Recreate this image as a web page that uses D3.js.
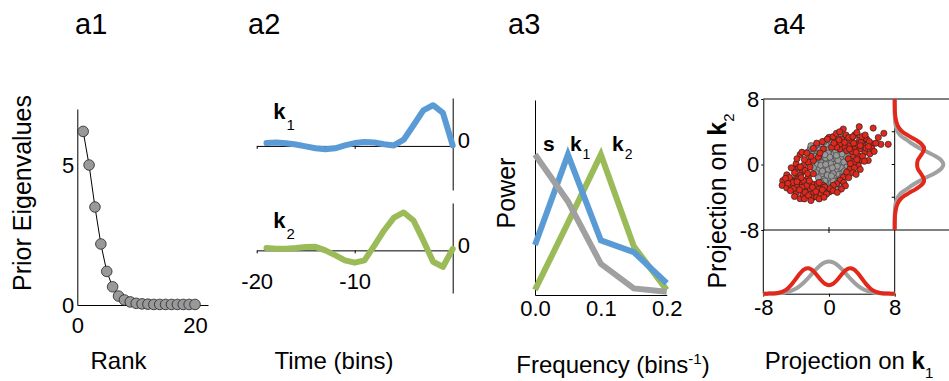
<!DOCTYPE html>
<html>
<head>
<meta charset="utf-8">
<script src="https://cdn.jsdelivr.net/npm/d3@7"></script>
<style>
  html, body { margin: 0; padding: 0; background: #fff; }
  svg { display: block; font-family: "Liberation Sans", Arial, sans-serif; }
</style>
</head>
<body>
<svg id="fig" width="949" height="381"></svg>
<script>
// ---- data ----
// a1: prior eigenvalues by rank
const ranks = [1, 2, 3, 4, 5, 6, 7, 8, 9, 10, 11, 12, 13, 14, 15, 16, 17, 18, 19, 20];
const eigenvalues = [6.2, 5.0, 3.5, 2.18, 1.2, 0.65, 0.32, 0.18, 0.11, 0.06, 0.04, 0.03, 0.02, 0.02, 0.02, 0.02, 0.02, 0.02, 0.02, 0.02];

// a2: filters over time bins
const timeBins = [-19, -18, -17, -16, -15, -14, -13, -12, -11, -10, -9, -8, -7, -6, -5, -4, -3, -2, -1, 0];
const k1Filter = [0.06, 0.07, 0.055, 0.03, -0.01, -0.05, -0.07, -0.05, 0.01, 0.06, 0.08, 0.07, 0.035, 0.01, 0.13, 0.43, 0.74, 0.85, 0.69, 0.01];
const k2Filter = [0.05, 0.035, 0.035, 0.05, 0.07, 0.075, 0.0, -0.10, -0.21, -0.26, -0.21, 0.10, 0.42, 0.69, 0.80, 0.63, 0.21, -0.24, -0.35, 0.03];

// a3: power spectra
const freqs = [0, 0.05, 0.1, 0.15, 0.2];
const powerS = [0.72, 0.48, 0.16, 0.034, 0.017];
const powerK1 = [0.256, 0.72, 0.28, 0.22, 0.06];
const powerK2 = [0.026, 0.37, 0.72, 0.25, 0.026];

// a4: projections (k1, k2) of raw stimuli (gray) and spike-triggered stimuli (red)
const grayPts = [
  [-2.3, 1.9], [-1.7, 1.8], [-0.9, 2.1], [-0.3, 2.5], [0.3, 2.7], [1.1, 2.9], [1.7, 3.1], [2.2, 3.1],
  [-2.0, 1.2], [-1.4, 1.3], [-0.8, 1.5], [-0.2, 1.7], [0.4, 1.9], [1.0, 2.1], [1.6, 2.3], [2.1, 2.2],
  [-1.8, 0.6], [-1.2, 0.7], [-0.6, 0.9], [0.0, 1.1], [0.6, 1.3], [1.2, 1.5], [1.8, 1.6],
  [-1.5, 0.0], [-0.9, 0.2], [-0.3, 0.4], [0.3, 0.6], [0.9, 0.8], [1.5, 0.9], [2.1, 1.0],
  [-1.2, -0.6], [-0.6, -0.4], [0.0, -0.2], [0.6, 0.0], [1.2, 0.2], [1.8, 0.3],
  [-0.9, -1.2], [-0.3, -1.0], [0.3, -0.8], [0.9, -0.6], [1.5, -0.4],
  [-0.6, -1.8], [0.0, -1.6], [0.6, -1.4], [1.2, -1.2], [1.7, -1.0],
  [-0.3, -2.4], [0.3, -2.2], [0.9, -2.0], [1.4, -1.8],
  [0.1, -2.8], [0.7, -2.6], [1.2, -2.4],
  [-1.0, -0.1], [-0.4, 0.8], [0.2, 0.1], [0.8, 1.7], [1.4, 2.6], [-0.5, -2.0], [0.5, -1.1],
  [-1.3, 1.0], [2.0, 1.9], [2.4, 2.6], [1.0, -0.2], [-0.1, -0.6],
  [-2.6, 1.5], [-2.4, 0.8], [-2.1, 0.2], [-1.9, -0.4], [-1.6, -1.0], [-1.3, -1.6], [-1.0, -2.2], [-0.7, -2.7],
  [-2.2, 2.3], [-1.5, 2.4], [-0.6, 2.8], [0.0, 3.0], [0.8, 3.3], [1.5, 3.5], [2.0, 3.4],
  [-0.4, 0.0], [0.4, -0.4], [1.1, 0.5], [-0.1, 1.4], [0.9, 1.1], [1.6, 1.3], [2.3, 1.5], [2.5, 0.6],
  [2.2, -0.3], [1.9, -0.8], [1.6, -1.5], [1.2, -2.0], [0.8, -3.0], [0.2, -3.2], [-0.5, -3.0],
  [-0.2, -1.3], [0.5, -2.0], [-0.8, -0.8], [0.1, 0.9], [0.7, 2.2], [1.3, 1.9], [-1.1, 1.8],
  [-1.7, 1.0], [-0.5, 1.2], [0.3, -1.4]
];
const redPts = [
  [1.74, 4.33], [3.68, 4.62], [5.38, 4.45], [6.68, 3.81], [6.32, 2.47], [7.21, 2.47], [0.0, 3.32],
  [1.54, 3.12], [2.06, 3.60], [3.16, 3.64], [3.72, 3.0], [4.25, 3.0], [4.57, 3.12], [5.30, 2.51],
  [0.85, 2.83], [-1.90, 1.98], [-0.69, 1.90], [-3.52, 1.21], [-4.01, 0.08], [-4.17, -0.61],
  [-5.14, -1.26], [-5.63, -1.98], [-5.71, -2.55], [-5.14, -2.87], [-4.57, -2.79], [-4.01, -3.48],
  [-3.52, -4.17], [-3.16, -3.68], [-2.02, -4.05], [-1.50, -3.97], [-1.01, -3.60], [0.04, -3.36],
  [-1.90, -3.36], [-2.71, -3.16], [-2.31, -2.96], [-1.30, -2.96], [-4.53, -1.94], [-3.93, -1.54],
  [-3.32, -0.93], [-3.12, -0.12], [-2.51, 0.28], [-1.90, 0.49], [-1.30, 0.89],
  [1.34, 1.90], [1.94, 2.11], [2.55, 2.31], [3.16, 1.90], [3.77, 1.90], [4.37, 1.50],
  [4.98, 1.30], [3.97, 0.49], [4.78, 0.49], [3.56, -0.12], [3.08, 0.28], [2.55, -0.53], [2.15, -0.93],
  [1.74, -1.54], [1.34, -1.94], [0.93, -2.35], [0.53, -2.55], [-0.69, -2.55], [-1.50, -2.35],
  [-2.11, -2.35], [-2.71, -2.55], [-3.52, -2.35], [-3.93, -2.55], [-4.33, -2.96], [-3.12, -1.94],
  [-2.51, -1.54], [-1.90, -1.13], [-3.52, -1.34], [-2.91, -0.73], [-2.31, -0.32],
  [-0.49, -2.75], [0.12, -2.96], [2.35, 0.69], [2.96, 1.09], [3.56, 1.09],
  [2.15, 1.70], [4.17, 2.31], [2.75, 2.91], [3.36, 2.51], [1.34, 2.51], [0.93, 2.11],
  [0.32, 2.11],
  [-4.8, -1.6], [-4.4, -2.2], [-3.8, -1.8], [-3.3, -2.8], [-2.9, -3.4], [-2.4, -2.0], [-2.0, -2.8],
  [-1.6, -3.3], [-1.2, -2.2], [-0.8, -3.1], [-3.7, -0.4], [-3.0, 0.6], [-2.6, -1.1],
  [-4.2, -1.0], [-3.4, -1.6], [-2.2, 1.0], [-1.1, 1.4], [-0.3, -3.6], [0.5, -3.2],
  [2.6, 0.1], [3.1, -0.4], [3.4, 0.6], [4.1, 1.0], [4.5, 2.0],
  [3.9, 2.7], [2.4, 3.3], [1.9, 2.7], [1.2, 3.0], [0.6, 2.6], [2.8, 1.6], [3.3, 1.5], [4.0, 3.4],
  [5.2, 2.0], [2.9, -1.0], [1.8, -2.2],
  [2.9, 3.4], [3.4, 3.9], [4.4, 3.6], [4.9, 2.8], [5.7, 2.6], [6.0, 3.3], [3.8, 2.3], [4.8, 2.2],
  [3.0, 2.6], [2.5, 1.9], [5.5, 1.6], [4.3, 0.4], [3.8, -0.6], [3.3, -1.2], [2.4, -1.6], [2.0, -2.6],
  [1.5, -3.0], [1.0, -3.4], [-5.3, -1.7], [-5.0, -2.3], [-4.7, -3.2], [-4.2, -3.9], [-3.6, -3.1],
  [-3.0, -4.2], [-2.5, -3.8], [-2.2, -4.4], [-1.2, -4.2], [-0.6, -4.0], [-3.9, -2.1], [-3.5, -0.3],
  [-4.6, -0.4], [-3.9, 0.7], [-3.3, 1.5], [-2.7, 1.4], [-1.5, 2.6], [-0.8, 2.8],
  [-0.2, 3.1], [0.5, 3.4], [0.9, 3.8], [1.3, 4.0]
];

// a4 marginals: grid along each projection and curve heights
const projGrid = [-8, -7.5, -7, -6.5, -6, -5.5, -5, -4.5, -4, -3.5, -3, -2.5, -2, -1.5, -1, -0.5, 0,
                  0.5, 1, 1.5, 2, 2.5, 3, 3.5, 4, 4.5, 5, 5.5, 6, 6.5, 7, 7.5, 8];
const margK1Gray = [0, 0.001, 0.002, 0.004, 0.009, 0.016, 0.030, 0.051, 0.082, 0.126, 0.182, 0.249, 0.321, 0.391, 0.451, 0.491, 0.505,
                    0.491, 0.451, 0.391, 0.321, 0.249, 0.182, 0.126, 0.082, 0.051, 0.030, 0.016, 0.009, 0.004, 0.002, 0.001, 0];
const margK1Red = [0, 0.001, 0.002, 0.007, 0.019, 0.043, 0.086, 0.153, 0.238, 0.322, 0.383, 0.399, 0.365, 0.294, 0.215, 0.155, 0.133,
                   0.155, 0.215, 0.294, 0.365, 0.399, 0.383, 0.322, 0.238, 0.153, 0.086, 0.043, 0.019, 0.007, 0.002, 0.001, 0];
const margK2Gray = [0, 0, 0, 0, 0.0015, 0.004, 0.010, 0.023, 0.048, 0.095, 0.19, 0.28, 0.39, 0.515, 0.639, 0.728, 0.76,
                    0.728, 0.639, 0.515, 0.39, 0.28, 0.19, 0.095, 0.048, 0.023, 0.010, 0.004, 0.0015, 0, 0, 0, 0];
const margK2Red = [0, 0, 0.001, 0.003, 0.008, 0.018, 0.035, 0.065, 0.12, 0.22, 0.33, 0.42, 0.46, 0.44, 0.40, 0.36, 0.35,
                   0.36, 0.40, 0.44, 0.46, 0.42, 0.33, 0.22, 0.12, 0.065, 0.035, 0.018, 0.008, 0.003, 0.001, 0, 0];

// ---- drawing ----
const FONT = '"Liberation Sans", Arial, sans-serif';
const BLUE = "#5b9bd5", GREEN = "#9bbb59", GRAY = "#a0a0a0", RED = "#e2281b";
const svg = d3.select("#fig");
const plain = d => String(d);

// style an axis group after d3 has drawn it
function styleAxis(g, size) {
  g.attr("font-family", FONT).attr("font-size", size);
  g.selectAll(".domain, .tick line").attr("stroke", "#000").attr("stroke-width", 1);
  g.selectAll("text").attr("fill", "#000");
  return g;
}

// panel titles
const titles = [["a1", 75], ["a2", 248], ["a3", 508], ["a4", 773]];
svg.selectAll("text.title").data(titles).join("text")
  .attr("class", "title").attr("x", d => d[1]).attr("y", 34)
  .attr("font-size", 29).text(d => d[0]);

// ===== a1 =====
const x1 = d3.scaleLinear([0, 22.2], [77.3, 208]);
const y1 = d3.scaleLinear([0, 7], [305, 109]);
styleAxis(svg.append("g").attr("transform", "translate(0,305)")
  .call(d3.axisBottom(x1).tickValues([0, 20]).tickFormat(plain).tickSize(0).tickSizeOuter(0).tickPadding(12)), 22);
styleAxis(svg.append("g").attr("transform", "translate(77.3,0)")
  .call(d3.axisLeft(y1).tickValues([0, 5]).tickFormat(plain).tickSize(0).tickSizeOuter(0).tickPadding(3)), 22);
const eig = ranks.map((r, i) => [r, eigenvalues[i]]);
svg.append("path").datum(eig)
  .attr("fill", "none").attr("stroke", "#000").attr("stroke-width", 1)
  .attr("d", d3.line().x(d => x1(d[0])).y(d => y1(d[1])));
svg.append("g").selectAll("circle").data(eig).join("circle")
  .attr("cx", d => x1(d[0])).attr("cy", d => y1(d[1])).attr("r", 5.3)
  .attr("fill", "#999").attr("stroke", "#222").attr("stroke-width", 0.8);
svg.append("text").attr("transform", "translate(31,193) rotate(-90)")
  .attr("text-anchor", "middle").attr("font-size", 25).text("Prior Eigenvalues");
svg.append("text").attr("x", 118.5).attr("y", 369)
  .attr("text-anchor", "middle").attr("font-size", 24).text("Rank");

// ===== a2 =====
const x2 = d3.scaleLinear([-20, 0], [256.7, 452.7]);
const y2a = d3.scaleLinear([-0.92, 1], [190, 98]);
const y2b = d3.scaleLinear([-0.9, 1], [293, 203]);
[y2a, y2b].forEach((ys, i) => {
  const gy = styleAxis(svg.append("g").attr("transform", `translate(${x2(0)},0)`)
    .call(d3.axisRight(ys).tickValues([0]).tickFormat(plain).tickSize(0).tickSizeOuter(0).tickPadding(5)), 22);
  gy.selectAll("text").attr("dy", "0.08em");
  const ax = d3.axisBottom(x2).tickValues([-20, -10]).tickSize(3).tickSizeOuter(0)
    .tickFormat(i === 1 ? plain : () => "").tickPadding(20);
  styleAxis(svg.append("g").attr("transform", `translate(0,${ys(0)})`).call(ax), 22);
});
[[k1Filter, y2a, BLUE], [k2Filter, y2b, GREEN]].forEach(([vals, ys, col]) => {
  svg.append("path").datum(timeBins.map((t, i) => [t, vals[i]]))
    .attr("fill", "none").attr("stroke", col).attr("stroke-width", 6)
    .attr("stroke-linejoin", "round").attr("stroke-linecap", "round")
    .attr("d", d3.line().x(d => x2(d[0])).y(d => ys(d[1])));
});
// k1 / k2 labels
[[y2a, 0.555, "1"], [y2b, 0.47, "2"]].forEach(([ys, v, s]) => {
  const t = svg.append("text").attr("x", x2(-18.3)).attr("y", ys(v)).attr("font-size", 22);
  t.append("tspan").attr("font-weight", "bold").text("k");
  t.append("tspan").attr("font-size", 15).attr("dy", 10.5).attr("dx", 1).text(s);
});
svg.append("text").attr("x", 334).attr("y", 369)
  .attr("text-anchor", "middle").attr("font-size", 24).text("Time (bins)");

// ===== a3 =====
const x3 = d3.scaleLinear([0, 0.2], [535, 666.7]);
const y3 = d3.scaleLinear([0, 1], [295, 100]);
styleAxis(svg.append("g").attr("transform", "translate(0,295)")
  .call(d3.axisBottom(x3).tickValues([0, 0.1, 0.2]).tickFormat(d3.format(".1f"))
    .tickSize(0).tickSizeOuter(0).tickPadding(5)), 22);
styleAxis(svg.append("g").attr("transform", "translate(535,0)")
  .call(d3.axisLeft(y3).tickValues([]).tickSize(0).tickSizeOuter(0)), 22);
[[powerK2, GREEN], [powerK1, BLUE], [powerS, GRAY]].forEach(([vals, col]) => {
  svg.append("path").datum(freqs.map((f, i) => [f, vals[i]]))
    .attr("fill", "none").attr("stroke", col).attr("stroke-width", 6)
    .attr("stroke-linejoin", "miter")
    .attr("d", d3.line().x(d => x3(d[0])).y(d => y3(d[1])));
});
svg.append("text").attr("x", x3(0.012)).attr("y", y3(0.738))
  .attr("font-size", 21).attr("font-weight", "bold").text("s");
[[0.053, "1"], [0.117, "2"]].forEach(([f, s]) => {
  const t = svg.append("text").attr("x", x3(f)).attr("y", y3(0.738)).attr("font-size", 21);
  t.append("tspan").attr("font-weight", "bold").text("k");
  t.append("tspan").attr("font-size", 14).attr("dy", 8).attr("dx", 1).text(s);
});
svg.append("text").attr("transform", "translate(515,193) rotate(-90)")
  .attr("text-anchor", "middle").attr("font-size", 25).text("Power");
{
  const t = svg.append("text").attr("x", 613).attr("y", 373)
    .attr("text-anchor", "middle").attr("font-size", 24);
  t.append("tspan").text("Frequency (bins");
  t.append("tspan").attr("font-size", 15).attr("dy", -9).text("-1");
  t.append("tspan").attr("dy", 9).text(")");
}

// ===== a4 =====
const x4 = d3.scaleLinear([-8, 8], [763.3, 894.7]);
const y4 = d3.scaleLinear([-8, 8], [230, 99]);
const hB = d3.scaleLinear([0, 1], [293.7, 229.7]);   // bottom marginal height
const wR = d3.scaleLinear([0, 1], [894.7, 958.7]);   // right marginal width

// frame lines
const frame = svg.append("g").attr("stroke", "#000").attr("stroke-width", 1);
frame.append("line").attr("x1", x4(-8)).attr("x2", 949).attr("y1", y4(8)).attr("y2", y4(8));
frame.append("line").attr("x1", x4(-8)).attr("x2", 949).attr("y1", y4(-8)).attr("y2", y4(-8));
frame.append("line").attr("x1", x4(8)).attr("x2", x4(8)).attr("y1", y4(8)).attr("y2", hB(0));
frame.append("line").attr("x1", x4(0)).attr("x2", x4(0)).attr("y1", y4(-8) - 3).attr("y2", y4(-8) + 3);
[-4, 0, 4].forEach(v => frame.append("line")
  .attr("x1", x4(8) - 3).attr("x2", x4(8)).attr("y1", y4(v)).attr("y2", y4(v)));

styleAxis(svg.append("g").attr("transform", `translate(0,${hB(0)})`)
  .call(d3.axisBottom(x4).tickValues([-8, 0, 8]).tickFormat(plain)
    .tickSize(3).tickSizeOuter(0).tickPadding(3)), 22);
styleAxis(svg.append("g").attr("transform", `translate(${x4(-8)},0)`)
  .call(d3.axisLeft(y4).tickValues([-8, 0, 8]).tickFormat(plain)
    .tickSize(2).tickSizeOuter(0).tickPadding(2)), 22);
svg.append("line").attr("x1", x4(-8)).attr("x2", x4(-8)).attr("y1", y4(-8)).attr("y2", hB(0))
  .attr("stroke", "#000");

// scatter: gray raw-stimulus cloud, spike-triggered red points over it
svg.append("g").selectAll("circle").data(grayPts).join("circle")
  .attr("cx", d => x4(d[0])).attr("cy", d => y4(d[1])).attr("r", 3.1)
  .attr("fill", "#999").attr("stroke", "#444").attr("stroke-width", 0.7);
svg.append("g").selectAll("circle").data(redPts).join("circle")
  .attr("cx", d => x4(d[0])).attr("cy", d => y4(d[1])).attr("r", 3.1)
  .attr("fill", RED).attr("stroke", "#222").attr("stroke-width", 0.7);

// marginals
const curveB = d3.line().curve(d3.curveCatmullRom).x(d => x4(d[0])).y(d => hB(d[1]));
const curveR = d3.line().curve(d3.curveCatmullRom).x(d => wR(d[1])).y(d => y4(d[0]));
[[margK1Gray, GRAY], [margK1Red, RED]].forEach(([vals, col]) => {
  svg.append("path").datum(projGrid.map((u, i) => [u, vals[i]]))
    .attr("fill", "none").attr("stroke", col).attr("stroke-width", 4).attr("d", curveB);
});
[[margK2Gray, GRAY], [margK2Red, RED]].forEach(([vals, col]) => {
  svg.append("path").datum(projGrid.map((v, i) => [v, vals[i]]))
    .attr("fill", "none").attr("stroke", col).attr("stroke-width", 4).attr("d", curveR);
});

// axis labels
{
  const t = svg.append("text").attr("transform", "translate(726,201) rotate(-90)")
    .attr("text-anchor", "middle").attr("font-size", 25);
  t.append("tspan").text("Projection on ");
  t.append("tspan").attr("font-weight", "bold").text("k");
  t.append("tspan").attr("font-size", 15).attr("dy", 8).text("2");
}
{
  const t = svg.append("text").attr("x", 849).attr("y", 369)
    .attr("text-anchor", "middle").attr("font-size", 24);
  t.append("tspan").text("Projection on ");
  t.append("tspan").attr("font-weight", "bold").text("k");
  t.append("tspan").attr("font-size", 15).attr("dy", 9).text("1");
}
</script>
</body>
</html>
